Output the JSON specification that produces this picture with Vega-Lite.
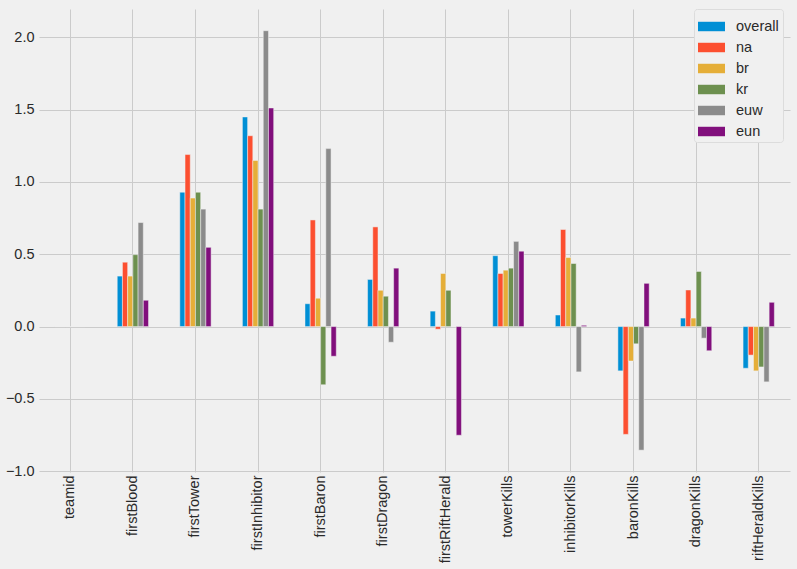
{
  "$schema": "https://vega.github.io/schema/vega-lite/v6.json",
  "width": 751,
  "height": 463,
  "autosize": {"type": "none"},
  "padding": {"left": 39, "top": 9, "right": 7, "bottom": 97},
  "background": "#f0f0f0",
  "config": {
    "view": {"fill": "#f0f0f0", "stroke": null},
    "font": "Liberation Sans",
    "axis": {"labelFont": "Liberation Sans", "labelColor": "#2a2a2a", "labelFontSize": 14.5, "gridColor": "#cbcbcb", "gridWidth": 1, "domain": false, "ticks": false},
    "legend": {"labelFont": "Liberation Sans", "labelFontSize": 14.5, "labelColor": "#2a2a2a"}
  },
  "data": {"values": [
    {"feature": "teamid", "region": "overall", "value": 0},
    {"feature": "teamid", "region": "na", "value": 0},
    {"feature": "teamid", "region": "br", "value": 0},
    {"feature": "teamid", "region": "kr", "value": 0},
    {"feature": "teamid", "region": "euw", "value": 0},
    {"feature": "teamid", "region": "eun", "value": 0},
    {"feature": "firstBlood", "region": "overall", "value": 0.349},
    {"feature": "firstBlood", "region": "na", "value": 0.445},
    {"feature": "firstBlood", "region": "br", "value": 0.349},
    {"feature": "firstBlood", "region": "kr", "value": 0.497},
    {"feature": "firstBlood", "region": "euw", "value": 0.719},
    {"feature": "firstBlood", "region": "eun", "value": 0.182},
    {"feature": "firstTower", "region": "overall", "value": 0.929},
    {"feature": "firstTower", "region": "na", "value": 1.189},
    {"feature": "firstTower", "region": "br", "value": 0.888},
    {"feature": "firstTower", "region": "kr", "value": 0.929},
    {"feature": "firstTower", "region": "euw", "value": 0.812},
    {"feature": "firstTower", "region": "eun", "value": 0.548},
    {"feature": "firstInhibitor", "region": "overall", "value": 1.449},
    {"feature": "firstInhibitor", "region": "na", "value": 1.319},
    {"feature": "firstInhibitor", "region": "br", "value": 1.148},
    {"feature": "firstInhibitor", "region": "kr", "value": 0.812},
    {"feature": "firstInhibitor", "region": "euw", "value": 2.045},
    {"feature": "firstInhibitor", "region": "eun", "value": 1.511},
    {"feature": "firstBaron", "region": "overall", "value": 0.158},
    {"feature": "firstBaron", "region": "na", "value": 0.737},
    {"feature": "firstBaron", "region": "br", "value": 0.196},
    {"feature": "firstBaron", "region": "kr", "value": -0.402},
    {"feature": "firstBaron", "region": "euw", "value": 1.23},
    {"feature": "firstBaron", "region": "eun", "value": -0.205},
    {"feature": "firstDragon", "region": "overall", "value": 0.326},
    {"feature": "firstDragon", "region": "na", "value": 0.689},
    {"feature": "firstDragon", "region": "br", "value": 0.251},
    {"feature": "firstDragon", "region": "kr", "value": 0.21},
    {"feature": "firstDragon", "region": "euw", "value": -0.108},
    {"feature": "firstDragon", "region": "eun", "value": 0.404},
    {"feature": "firstRiftHerald", "region": "overall", "value": 0.107},
    {"feature": "firstRiftHerald", "region": "na", "value": -0.018},
    {"feature": "firstRiftHerald", "region": "br", "value": 0.367},
    {"feature": "firstRiftHerald", "region": "kr", "value": 0.251},
    {"feature": "firstRiftHerald", "region": "euw", "value": 0},
    {"feature": "firstRiftHerald", "region": "eun", "value": -0.751},
    {"feature": "towerKills", "region": "overall", "value": 0.49},
    {"feature": "towerKills", "region": "na", "value": 0.367},
    {"feature": "towerKills", "region": "br", "value": 0.39},
    {"feature": "towerKills", "region": "kr", "value": 0.404},
    {"feature": "towerKills", "region": "euw", "value": 0.589},
    {"feature": "towerKills", "region": "eun", "value": 0.521},
    {"feature": "inhibitorKills", "region": "overall", "value": 0.08},
    {"feature": "inhibitorKills", "region": "na", "value": 0.671},
    {"feature": "inhibitorKills", "region": "br", "value": 0.477},
    {"feature": "inhibitorKills", "region": "kr", "value": 0.436},
    {"feature": "inhibitorKills", "region": "euw", "value": -0.313},
    {"feature": "inhibitorKills", "region": "eun", "value": 0.009},
    {"feature": "baronKills", "region": "overall", "value": -0.306},
    {"feature": "baronKills", "region": "na", "value": -0.745},
    {"feature": "baronKills", "region": "br", "value": -0.238},
    {"feature": "baronKills", "region": "kr", "value": -0.119},
    {"feature": "baronKills", "region": "euw", "value": -0.854},
    {"feature": "baronKills", "region": "eun", "value": 0.299},
    {"feature": "dragonKills", "region": "overall", "value": 0.059},
    {"feature": "dragonKills", "region": "na", "value": 0.253},
    {"feature": "dragonKills", "region": "br", "value": 0.059},
    {"feature": "dragonKills", "region": "kr", "value": 0.381},
    {"feature": "dragonKills", "region": "euw", "value": -0.08},
    {"feature": "dragonKills", "region": "eun", "value": -0.167},
    {"feature": "riftHeraldKills", "region": "overall", "value": -0.288},
    {"feature": "riftHeraldKills", "region": "na", "value": -0.197},
    {"feature": "riftHeraldKills", "region": "br", "value": -0.306},
    {"feature": "riftHeraldKills", "region": "kr", "value": -0.279},
    {"feature": "riftHeraldKills", "region": "euw", "value": -0.382},
    {"feature": "riftHeraldKills", "region": "eun", "value": 0.168}
  ]},
  "mark": {"type": "bar", "stroke": "#f0f0f0", "strokeWidth": 0.5},
  "encoding": {
    "x": {
      "field": "feature", "type": "nominal",
      "sort": ["teamid", "firstBlood", "firstTower", "firstInhibitor", "firstBaron", "firstDragon", "firstRiftHerald", "towerKills", "inhibitorKills", "baronKills", "dragonKills", "riftHeraldKills"],
      "scale": {"paddingInner": 0.5, "paddingOuter": 0.25},
      "axis": {"title": null, "labelAngle": -90, "labelAlign": "right", "labelBaseline": "middle", "labelPadding": 3, "grid": true, "bandPosition": 0.5}
    },
    "xOffset": {
      "field": "region", "type": "nominal",
      "sort": ["overall", "na", "br", "kr", "euw", "eun"],
      "scale": {"paddingInner": 0, "paddingOuter": 0}
    },
    "y": {
      "field": "value", "type": "quantitative",
      "scale": {"domain": [-1.005, 2.195], "nice": false, "zero": false},
      "axis": {"title": null, "values": [-1, -0.5, 0, 0.5, 1, 1.5, 2], "format": ".1f", "labelPadding": 5, "grid": true}
    },
    "color": {
      "field": "region", "type": "nominal",
      "sort": ["overall", "na", "br", "kr", "euw", "eun"],
      "scale": {"domain": ["overall", "na", "br", "kr", "euw", "eun"], "range": ["#008fd5", "#fc4f30", "#e5ae38", "#6d904f", "#8b8b8b", "#810f7c"]},
      "legend": {
        "title": null, "orient": "none", "legendX": 655, "legendY": 0,
        "symbolType": "M-1,-0.35L1,-0.35L1,0.35L-1,0.35Z", "symbolSize": 729,
        "symbolStrokeWidth": 0, "labelOffset": 11, "rowPadding": 1,
        "padding": 4, "fillColor": "#f0f0f0", "strokeColor": "#dcdcdc", "cornerRadius": 3
      }
    }
  }
}
